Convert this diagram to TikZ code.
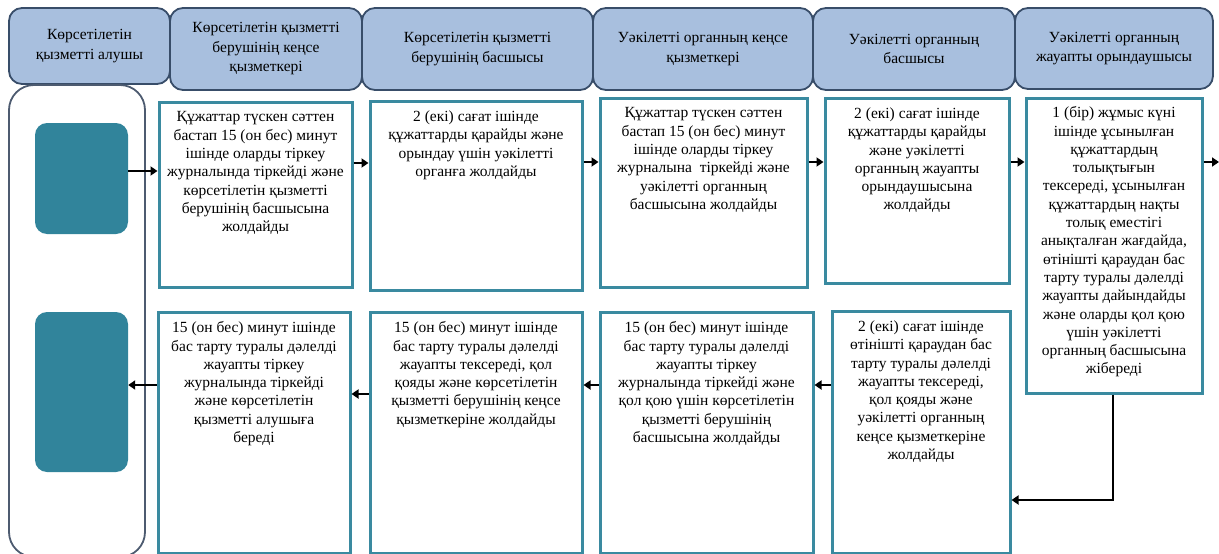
\documentclass[tikz,border=0pt]{standalone}
\usepackage{fontspec}
\setmainfont{Liberation Serif}
\usetikzlibrary{arrows.meta}
\definecolor{headfill}{RGB}{168,191,222}
\definecolor{headborder}{RGB}{56,77,105}
\definecolor{tealfill}{RGB}{49,132,155}
\definecolor{boxborder}{RGB}{58,138,160}
\definecolor{laneborder}{RGB}{77,91,112}
\begin{document}
\begin{tikzpicture}[x=1pt,y=-1pt,
  head/.style={draw=headborder, fill=headfill, line width=1.8pt, rounded corners=13pt,
    align=center, inner sep=0pt, font=\fontsize{15.5}{19.5}\selectfont, text=black},
  lane/.style={draw=laneborder, line width=1.8pt, rounded corners=25pt, inner sep=0pt},
  tealbox/.style={fill=tealfill, draw=none, rounded corners=12pt, inner sep=0pt},
  stepbox/.style={draw=boxborder, line width=3pt, inner sep=0pt},
  txt/.style={anchor=north, align=center, inner sep=2pt, font=\fontsize{15.5}{18.3}\selectfont, text=black},
  arr/.style={line width=2.8pt, -{Triangle[length=7pt,width=9pt]}}
]
\useasboundingbox (0,0) rectangle (1219,554);

% headers
\node[head, minimum width=161pt, minimum height=76pt] (h1) at (89.5,46) {Көрсетілетін\\қызметті алушы};
\node[head, minimum width=192pt, minimum height=82pt] (h2) at (266,49) {Көрсетілетін қызметті\\берушінің кеңсе\\қызметкері};
\node[head, minimum width=231pt, minimum height=82pt] (h3) at (477.5,49) {Көрсетілетін қызметті\\берушінің басшысы};
\node[head, minimum width=220pt, minimum height=82pt] (h4) at (703,49) {Уәкілетті органның кеңсе\\қызметкері};
\node[head, minimum width=202pt, minimum height=82pt] (h5) at (914,49) {Уәкілетті органның\\басшысы};
\node[head, minimum width=198pt, minimum height=81pt] (h6) at (1114,48.5) {Уәкілетті органның\\жауапты орындаушысы};

% left lane
\node[lane, minimum width=136pt, minimum height=472pt] (lane) at (77,321) {};
\node[tealbox, minimum width=93pt, minimum height=111pt] (t1) at (81.5,178.5) {};
\node[tealbox, minimum width=93pt, minimum height=160pt] (t2) at (81.5,392) {};

% top row boxes
\node[stepbox, minimum width=193pt, minimum height=185pt] (b1) at (255.5,194.5) {};
\node[stepbox, minimum width=212pt, minimum height=189pt] (b2) at (476,195.5) {};
\node[stepbox, minimum width=207pt, minimum height=189pt] (b3) at (703.5,192.5) {};
\node[stepbox, minimum width=184pt, minimum height=185pt] (b4) at (917,190.5) {};
\node[stepbox, minimum width=176pt, minimum height=295pt] (b5) at (1114,245.5) {};

\node[txt] (b1t) at ([yshift=-9pt]b1.north) {Құжаттар түскен сәттен\\бастап 15 (он бес) минут\\ішінде оларды тіркеу\\журналында тіркейді және\\көрсетілетін қызметті\\берушінің басшысына\\жолдайды};
\node[txt] (b2t) at ([yshift=-9pt]b2.north) {2 (екі) сағат ішінде\\құжаттарды қарайды және\\орындау үшін уәкілетті\\органға жолдайды};
\node[txt] (b3t) at ([yshift=-9pt]b3.north) {Құжаттар түскен сәттен\\бастап 15 (он бес) минут\\ішінде оларды тіркеу\\журналына\ \ тіркейді және\\уәкілетті органның\\басшысына жолдайды};
\node[txt] (b4t) at ([yshift=-9pt]b4.north) {2 (екі) сағат ішінде\\құжаттарды қарайды\\және уәкілетті\\органның жауапты\\орындаушысына\\жолдайды};
\node[txt] (b5t) at ([yshift=-8pt]b5.north) {1 (бір) жұмыс күні\\ішінде ұсынылған\\құжаттардың\\толықтығын\\тексереді, ұсынылған\\құжаттардың нақты\\толық еместігі\\анықталған жағдайда,\\өтінішті қараудан бас\\тарту туралы дәлелді\\жауапты дайындайды\\және оларды қол қою\\үшін уәкілетті\\органның басшысына\\жібереді};

% bottom row boxes
\node[stepbox, minimum width=192pt, minimum height=241pt] (c1) at (254,432.5) {};
\node[stepbox, minimum width=212pt, minimum height=241pt] (c2) at (476,432.5) {};
\node[stepbox, minimum width=213pt, minimum height=241pt] (c3) at (706.5,432.5) {};
\node[stepbox, minimum width=178pt, minimum height=242pt] (c4) at (921,432) {};

\node[txt] (c1t) at ([yshift=-9pt]c1.north) {15 (он бес) минут ішінде\\бас тарту туралы дәлелді\\жауапты тіркеу\\журналында тіркейді\\және көрсетілетін\\қызметті алушыға\\береді};
\node[txt] (c2t) at ([yshift=-9pt]c2.north) {15 (он бес) минут ішінде\\бас тарту туралы дәлелді\\жауапты тексереді, қол\\қояды және көрсетілетін\\қызметті берушінің кеңсе\\қызметкеріне жолдайды};
\node[txt] (c3t) at ([yshift=-9pt]c3.north) {15 (он бес) минут ішінде\\бас тарту туралы дәлелді\\жауапты тіркеу\\журналында тіркейді және\\қол қою үшін көрсетілетін\\қызметті берушінің\\басшысына жолдайды};
\node[txt] (c4t) at ([yshift=-9pt]c4.north) {2 (екі) сағат ішінде\\өтінішті қараудан бас\\тарту туралы дәлелді\\жауапты тексереді,\\қол қояды және\\уәкілетті органның\\кеңсе қызметкеріне\\жолдайды};

% connectors
\coordinate (out) at (1219,162);
\draw[arr] ([yshift=7.5pt]t1.east) -- ([yshift=7.5pt]t1.east -| b1.west);
\draw[arr] ([yshift=31.5pt]b1.east) -- ([yshift=31.5pt]b1.east -| b2.west);
\draw[arr] ([yshift=33.5pt]b2.east) -- ([yshift=33.5pt]b2.east -| b3.west);
\draw[arr] ([yshift=30.5pt]b3.east) -- ([yshift=30.5pt]b3.east -| b4.west);
\draw[arr] ([yshift=28.5pt]b4.east) -- ([yshift=28.5pt]b4.east -| b5.west);
\draw[arr] ([yshift=83.5pt]b5.east) -- (out);
\draw[arr] ([xshift=-1pt]b5.south) |- ([yshift=-68pt]c4.east);
\draw[arr] ([yshift=47pt]c4.west) -- ([yshift=47pt]c4.west -| c3.east);
\draw[arr] ([yshift=47.5pt]c3.west) -- ([yshift=47.5pt]c3.west -| c2.east);
\draw[arr] ([yshift=38.5pt]c2.west) -- ([yshift=38.5pt]c2.west -| c1.east);
\draw[arr] ([yshift=47.5pt]c1.west) -- ([yshift=47.5pt]c1.west -| t2.east);
\end{tikzpicture}
\end{document}
